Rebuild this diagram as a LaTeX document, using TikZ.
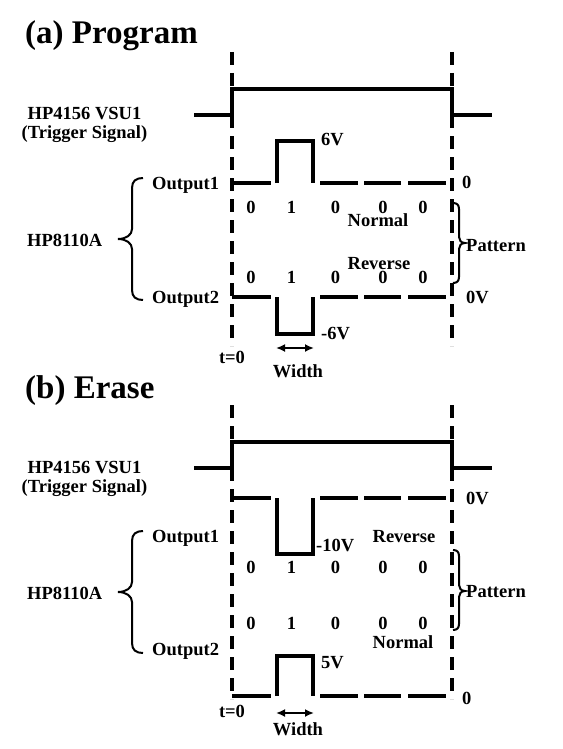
\documentclass[tikz,border=0pt]{standalone}
\usepackage{fontspec}
\setmainfont{Liberation Serif}
\usetikzlibrary{arrows.meta}
\begin{document}
\begin{tikzpicture}[x=1pt,y=-1pt,
  lbl/.style={font=\fontsize{18.5}{20}\selectfont\bfseries, inner sep=0pt},
  ttl/.style={font=\fontsize{33}{36}\selectfont\bfseries, inner sep=0pt, anchor=base west},
  guide/.style={line width=3.6pt, dash pattern=on 13pt off 8pt},
  wave/.style={line width=3.1pt},
  brc/.style={line width=2pt},
  span/.style={line width=2.4pt, {Latex[length=9pt,width=8pt]}-{Latex[length=9pt,width=8pt]}}
]
\useasboundingbox (0,0) rectangle (562,749);

% ---------------- (a) Program ----------------
\node[ttl] (titleA) at (25,44) {(a) Program};

% time markers
\coordinate (gA1t) at (232,52);  \coordinate (gA1b) at (232,346);
\coordinate (gA2t) at (452,52);  \coordinate (gA2b) at (452,346);
\draw[guide] (gA1t) -- (gA1b);
\draw[guide] (gA2t) -- (gA2b);

% trigger signal
\draw[wave] (194,115) -- (232,115) -- (232,89) -- (452,89) -- (452,115) -- (492,115);

% output 1: positive pulse in bit 1
\draw[wave] (232,183) -- (271,183);
\draw[wave] (277,183) -- (277,141) -- (313,141) -- (313,183);
\draw[wave] (320,183) -- (358,183);
\draw[wave] (364,183) -- (401,183);
\draw[wave] (408,183) -- (446,183);

% output 2: negative pulse in bit 1
\draw[wave] (232,297) -- (271,297);
\draw[wave] (277,297) -- (277,334) -- (313,334) -- (313,297);
\draw[wave] (320,297) -- (358,297);
\draw[wave] (364,297) -- (401,297);
\draw[wave] (408,297) -- (446,297);

% labels
\node[lbl, anchor=base] (trigA) at (84.5,120) {HP4156 VSU1};
\node[lbl, anchor=base] (trigAs) at (84.5,139) {(Trigger Signal)};
\node[lbl, anchor=base west] (vA1) at (321,145) {6V};
\node[lbl, anchor=base west] (zA1) at (462,188) {0};
\node[lbl, anchor=base west] (out1A) at (152,189) {Output1};
\node[lbl, anchor=base west] (out2A) at (152,303) {Output2};
\node[lbl, anchor=base west] (genA) at (27,246) {HP8110A};
\node[lbl, anchor=base west] (patA) at (466,251) {Pattern};
\node[lbl, anchor=base west] (zA2) at (466,303) {0V};
\node[lbl, anchor=base west] (vA2) at (321,339) {-6V};
\node[lbl, anchor=base] (tA) at (232,363) {t=0};
\node[lbl, anchor=base] (wA) at (298,377) {Width};
\node[lbl, anchor=base] (normA) at (378,226) {Normal};
\node[lbl, anchor=base] (revA) at (379,269) {Reverse};
\foreach \x/\b [count=\i] in {251/0,291.5/1,335.5/0,383/0,423/0} {
  \node[lbl, anchor=base] (bA1\i) at (\x,213) {\b};
  \node[lbl, anchor=base] (bA2\i) at (\x,283) {\b};
}

% braces
\coordinate (lbA1) at (143,178); \coordinate (lbA2) at (143,300);
\draw[brc] (lbA1) .. controls (136,178) and (132,181) .. (132,188) -- (132,229)
  .. controls (132,235) and (126,239) .. (118,239)
  .. controls (126,239) and (132,243) .. (132,249) -- (132,290)
  .. controls (132,297) and (136,300) .. (lbA2);
\coordinate (rbA1) at (453,203); \coordinate (rbA2) at (453,283);
\draw[brc] (rbA1) .. controls (457,203) and (459,205) .. (459,209) -- (459,237)
  .. controls (459,240) and (461,243) .. (465,243)
  .. controls (461,243) and (459,246) .. (459,249) -- (459,277)
  .. controls (459,281) and (457,283) .. (rbA2);

% width marker
\coordinate (wA1) at (276,348); \coordinate (wA2) at (314,348);
\draw[span] (wA1) -- (wA2);

% ---------------- (b) Erase ----------------
\node[ttl] (titleB) at (25,398) {(b) Erase};

\coordinate (gB1t) at (232,405);  \coordinate (gB1b) at (232,699);
\coordinate (gB2t) at (452,405);  \coordinate (gB2b) at (452,699);
\draw[guide] (gB1t) -- (gB1b);
\draw[guide] (gB2t) -- (gB2b);

\draw[wave] (194,468) -- (232,468) -- (232,442) -- (452,442) -- (452,468) -- (492,468);

% output 1: negative pulse
\draw[wave] (232,498) -- (271,498);
\draw[wave] (277,498) -- (277,554) -- (313,554) -- (313,498);
\draw[wave] (320,498) -- (358,498);
\draw[wave] (364,498) -- (401,498);
\draw[wave] (408,498) -- (446,498);

% output 2: positive pulse
\draw[wave] (232,696) -- (271,696);
\draw[wave] (277,696) -- (277,656) -- (313,656) -- (313,696);
\draw[wave] (320,696) -- (358,696);
\draw[wave] (364,696) -- (401,696);
\draw[wave] (408,696) -- (446,696);

\node[lbl, anchor=base] (trigB) at (84.5,473) {HP4156 VSU1};
\node[lbl, anchor=base] (trigBs) at (84.5,492) {(Trigger Signal)};
\node[lbl, anchor=base west] (zB1) at (466,504) {0V};
\node[lbl, anchor=base west] (vB1) at (316,551) {-10V};
\node[lbl, anchor=base west] (out1B) at (152,542) {Output1};
\node[lbl, anchor=base west] (out2B) at (152,655) {Output2};
\node[lbl, anchor=base west] (genB) at (27,599) {HP8110A};
\node[lbl, anchor=base west] (patB) at (466,597) {Pattern};
\node[lbl, anchor=base west] (vB2) at (321,668) {5V};
\node[lbl, anchor=base west] (zB2) at (462,704) {0};
\node[lbl, anchor=base] (tB) at (232,717) {t=0};
\node[lbl, anchor=base] (wB) at (298,735) {Width};
\node[lbl, anchor=base] (revB) at (404,542) {Reverse};
\node[lbl, anchor=base] (normB) at (403,648) {Normal};
\foreach \x/\b [count=\i] in {251/0,291.5/1,335.5/0,383/0,423/0} {
  \node[lbl, anchor=base] (bB1\i) at (\x,573) {\b};
  \node[lbl, anchor=base] (bB2\i) at (\x,629) {\b};
}

\coordinate (lbB1) at (143,531); \coordinate (lbB2) at (143,653);
\draw[brc] (lbB1) .. controls (136,531) and (132,534) .. (132,541) -- (132,582)
  .. controls (132,588) and (126,592) .. (118,592)
  .. controls (126,592) and (132,596) .. (132,602) -- (132,643)
  .. controls (132,650) and (136,653) .. (lbB2);
\coordinate (rbB1) at (453,550); \coordinate (rbB2) at (453,630);
\draw[brc] (rbB1) .. controls (457,550) and (459,552) .. (459,556) -- (459,585)
  .. controls (459,588) and (461,591) .. (465,591)
  .. controls (461,591) and (459,594) .. (459,597) -- (459,624)
  .. controls (459,628) and (457,630) .. (rbB2);

\coordinate (wB1) at (276,713); \coordinate (wB2) at (314,713);
\draw[span] (wB1) -- (wB2);
\end{tikzpicture}
\end{document}
